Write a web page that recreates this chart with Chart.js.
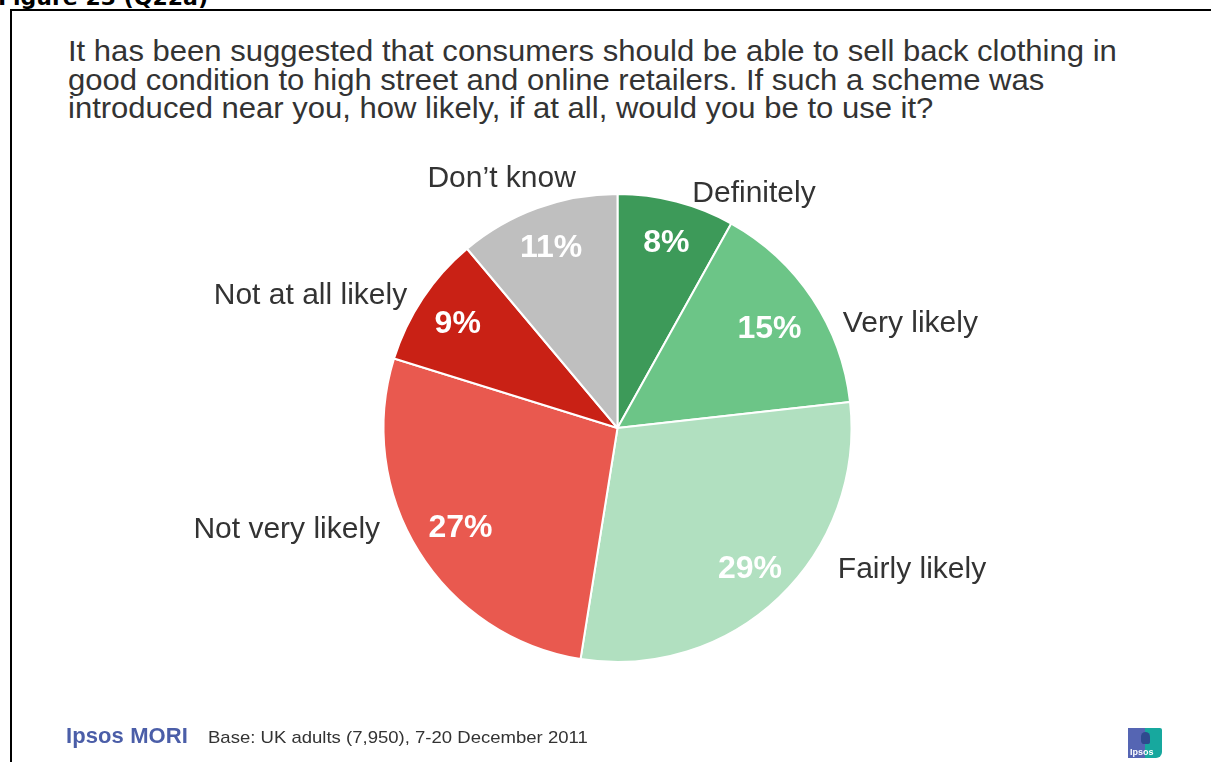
<!DOCTYPE html>
<html>
<head>
<meta charset="utf-8">
<script src="https://cdn.jsdelivr.net/npm/chart.js@4/dist/chart.umd.min.js"></script>
<style>
  html, body { margin: 0; padding: 0; background: #fff; overflow: hidden; }
  body { width: 1211px; height: 762px; position: relative; font-family: "Liberation Sans", Arial, sans-serif; }
  #fig { position: absolute; left: -2px; top: -15px; font-family: "DejaVu Sans", sans-serif; font-weight: bold; font-size: 22px; color: #000; white-space: nowrap; }
  #frame { position: absolute; left: 10px; top: 9px; width: 1400px; height: 900px; border: 2px solid #000; box-sizing: border-box; }
  #title { position: absolute; left: 68px; top: 37px; font-size: 29px; line-height: 28.6px; color: #333; white-space: nowrap; transform: scaleX(1.07); transform-origin: 0 0; }
  #chart { position: absolute; left: 0; top: 0; }
  #brand { position: absolute; left: 66px; top: 723px; font-size: 22px; font-weight: bold; color: #4b5ea8; letter-spacing: 0.1px; }
  #base { position: absolute; left: 208px; top: 728px; font-size: 17px; color: #333; white-space: nowrap; transform: scaleX(1.09); transform-origin: 0 0; }
  #logo { position: absolute; left: 1128px; top: 728px; width: 34px; height: 30px; overflow: hidden; }
  #logo .l { position: absolute; left: 0; top: 0; width: 18px; height: 30px; background: #5565b3; }
  #logo .r { position: absolute; left: 17px; top: 0; width: 17px; height: 30px; background: #17a89e; border-radius: 0 2px 6px 0; }
  #logo .h { position: absolute; left: 13px; top: 4px; width: 9px; height: 12px; background: #2f4b8e; border-radius: 5px 5px 2px 4px; }
  #logo .t { position: absolute; left: 2px; bottom: 1px; font-size: 9px; font-weight: bold; color: #fff; }
</style>
</head>
<body>
<div id="fig">Figure 23 (Q22a)</div>
<div id="frame"></div>
<div id="title">It has been suggested that consumers should be able to sell back clothing in<br>good condition to high street and online retailers. If such a scheme was<br>introduced near you, how likely, if at all, would you be to use it?</div>
<canvas id="chart" width="1211" height="762"></canvas>
<div id="brand">Ipsos MORI</div>
<div id="base">Base: UK adults (7,950), 7-20 December 2011</div>
<div id="logo"><div class="l"></div><div class="r"></div><div class="h"></div><div class="t">Ipsos</div></div>

<script>
const categories = ['Definitely', 'Very likely', 'Fairly likely', 'Not very likely', 'Not at all likely', 'Don\u2019t know'];
const shares = [8, 15, 29, 27, 9, 11];
const sliceColors = ['#3d9a59', '#6cc587', '#b1e0c0', '#e9594f', '#c92115', '#bfbfbf'];

// where the % sits along each slice's middle, as a fraction of the radius
const innerRadiusFactor = [0.83, 0.78, 0.82, 0.79, 0.82, 0.83];
// category names: [degrees clockwise from 12 o'clock, fraction of the radius]
const outerLabelPos = [[29.9, 1.17], [70.0, 1.332], [115.3, 1.392], [253.4, 1.475], [293.7, 1.433], [335.3, 1.185]];

const sliceLabels = {
  id: 'sliceLabels',
  afterDatasetsDraw(chart) {
    const ctx = chart.ctx;
    const arcs = chart.getDatasetMeta(0).data;
    ctx.save();
    ctx.textAlign = 'center';
    ctx.textBaseline = 'alphabetic';
    arcs.forEach((arc, i) => {
      const { x, y, startAngle, endAngle, outerRadius } = arc.getProps(['x', 'y', 'startAngle', 'endAngle', 'outerRadius'], true);
      const mid = (startAngle + endAngle) / 2;

      // percentage inside the slice
      const ri = outerRadius * innerRadiusFactor[i];
      ctx.font = 'bold 32px "Liberation Sans", Arial, sans-serif';
      ctx.fillStyle = '#ffffff';
      ctx.fillText(shares[i] + '%', x + Math.cos(mid) * ri, y + Math.sin(mid) * ri + 11.5);

      // category name outside
      const [deg, f] = outerLabelPos[i];
      const a = (deg - 90) * Math.PI / 180;
      ctx.font = '30px "Liberation Sans", Arial, sans-serif';
      ctx.fillStyle = '#333333';
      ctx.fillText(categories[i], x + Math.cos(a) * outerRadius * f, y + Math.sin(a) * outerRadius * f + 11);
    });
    ctx.restore();
  }
};

new Chart(document.getElementById('chart'), {
  type: 'pie',
  data: {
    labels: categories,
    datasets: [{
      data: shares,
      backgroundColor: sliceColors,
      borderColor: '#ffffff',
      borderWidth: 2
    }]
  },
  options: {
    responsive: false,
    devicePixelRatio: 1,
    animation: false,
    layout: { padding: { left: 382, right: 358, top: 193, bottom: 99 } },
    plugins: {
      legend: { display: false },
      tooltip: { enabled: false }
    }
  },
  plugins: [sliceLabels]
});
</script>
</body>
</html>
